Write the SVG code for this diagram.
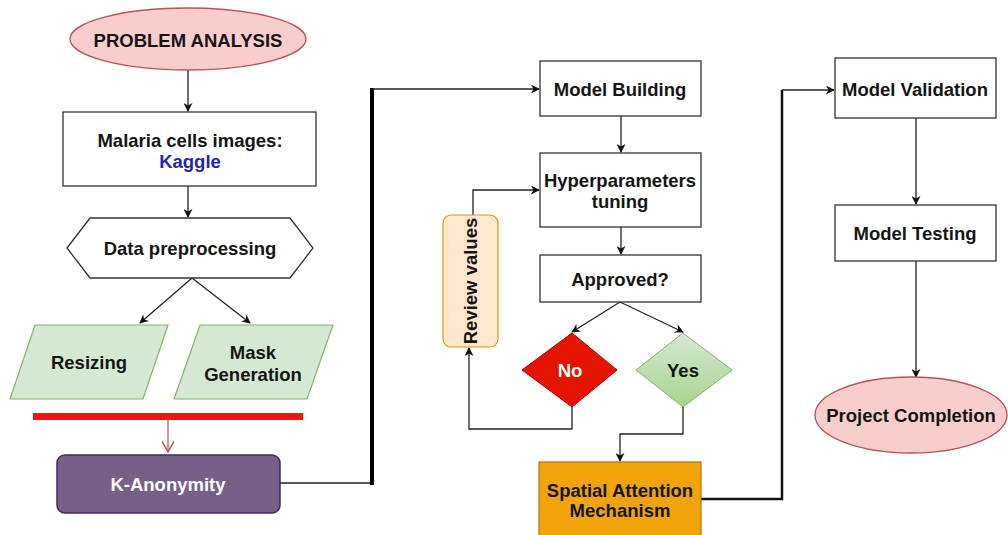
<svg xmlns="http://www.w3.org/2000/svg" width="1008" height="535" viewBox="0 0 1008 535">
<style>
text{font-family:"Liberation Sans",Arial,sans-serif;font-weight:bold;font-size:18.5px;fill:#151515;text-anchor:middle;dominant-baseline:central}
.box{fill:#fff;stroke:#333;stroke-width:1.3}
.ln{fill:none;stroke:#222;stroke-width:1.3}
</style>
<defs>
<marker id="ah" viewBox="0 0 10 10" refX="9" refY="5" markerWidth="9" markerHeight="9" markerUnits="userSpaceOnUse" orient="auto">
<path d="M0,0 L10,5 L0,10 L3,5 Z" fill="#111"/>
</marker>
<marker id="ro" viewBox="0 0 10 10" refX="9" refY="5" markerWidth="12" markerHeight="12" markerUnits="userSpaceOnUse" orient="auto">
<path d="M0,0 L9,5 L0,10" fill="none" stroke="#b85450" stroke-width="1.2"/>
</marker>
<linearGradient id="yg" x1="0" y1="0" x2="0" y2="1">
<stop offset="0" stop-color="#d5e8d4"/><stop offset="1" stop-color="#a8d48e"/>
</linearGradient>
</defs>
<rect width="1008" height="535" fill="#fff"/>

<g id="connectors">
<line class="ln" x1="188" y1="70" x2="188" y2="111" marker-end="url(#ah)"/>
<line class="ln" x1="188" y1="186" x2="188" y2="217" marker-end="url(#ah)"/>
<line class="ln" x1="192" y1="278" x2="140" y2="323" marker-end="url(#ah)"/>
<line class="ln" x1="192" y1="278" x2="250" y2="323" marker-end="url(#ah)"/>
<line x1="168" y1="420" x2="168" y2="452" stroke="#b85450" stroke-width="1.2" marker-end="url(#ro)"/>
<polyline class="ln" points="280,483 372,483"/>
<line x1="372" y1="88" x2="372" y2="485" stroke="#000" stroke-width="4"/>
<line class="ln" x1="372" y1="89" x2="539" y2="89" marker-end="url(#ah)"/>
<line class="ln" x1="621" y1="116" x2="621" y2="152" marker-end="url(#ah)"/>
<line class="ln" x1="621" y1="227" x2="621" y2="254" marker-end="url(#ah)"/>
<polyline class="ln" points="473,215 473,190 539,190" marker-end="url(#ah)"/>
<line class="ln" x1="620" y1="302" x2="572" y2="332" marker-end="url(#ah)"/>
<line class="ln" x1="620" y1="302" x2="683" y2="332" marker-end="url(#ah)"/>
<polyline class="ln" points="572,407 572,429 469,429 469,348" marker-end="url(#ah)"/>
<polyline class="ln" points="683,407 683,434 620,434 620,461" marker-end="url(#ah)"/>
<polyline points="701,499 782,499 782,90" fill="none" stroke="#111" stroke-width="2.5"/>
<line class="ln" x1="782" y1="90" x2="834" y2="90" marker-end="url(#ah)"/>
<line class="ln" x1="916" y1="118" x2="916" y2="204" marker-end="url(#ah)"/>
<line class="ln" x1="916" y1="261" x2="916" y2="377" marker-end="url(#ah)"/>
</g>

<g id="problem-analysis">
<ellipse cx="188" cy="39" rx="118" ry="31" fill="#f8cecc" stroke="#b85450" stroke-width="1.3"/>
<text x="188" y="40">PROBLEM ANALYSIS</text>
</g>
<g id="malaria-images">
<rect class="box" x="63" y="112" width="253" height="74"/>
<text x="190" y="140">Malaria cells images:</text>
<text x="190" y="161" style="fill:#2323b8">Kaggle</text>
</g>
<g id="data-preprocessing">
<polygon class="box" points="67,248 90,218 290,218 313,248 290,278 90,278"/>
<text x="190" y="248">Data preprocessing</text>
</g>
<g id="resizing">
<polygon points="35,325 168,325 143,399 10,399" fill="#d5e8d4" stroke="#82b366" stroke-width="1.2"/>
<text x="89" y="362">Resizing</text>
</g>
<g id="mask-generation">
<polygon points="200,325 333,325 307,399 174,399" fill="#d5e8d4" stroke="#82b366" stroke-width="1.2"/>
<text x="253" y="352">Mask</text>
<text x="253" y="374">Generation</text>
</g>
<g id="sync-bar">
<rect x="33" y="413" width="270" height="7" fill="#f01414"/>
</g>
<g id="k-anonymity">
<rect x="57" y="455" width="223" height="58" rx="8" fill="#76608a" stroke="#432d57" stroke-width="1.5"/>
<text x="168" y="484" style="fill:#fff">K-Anonymity</text>
</g>
<g id="model-building">
<rect class="box" x="540" y="61" width="161" height="55"/>
<text x="620" y="89">Model Building</text>
</g>
<g id="hyperparameters">
<rect class="box" x="540" y="153" width="161" height="74"/>
<text x="620" y="180">Hyperparameters</text>
<text x="620" y="201">tuning</text>
</g>
<g id="approved">
<rect class="box" x="540" y="255" width="161" height="47"/>
<text x="620" y="279">Approved?</text>
</g>
<g id="review-values">
<rect x="443" y="215" width="55" height="132" rx="8" fill="#ffe6cc" stroke="#d79b00" stroke-width="1.2"/>
<text x="470" y="281" transform="rotate(-90 470 281)">Review values</text>
</g>
<g id="no">
<polygon points="572,333 617,370 572,407 522,370" fill="#e51400" stroke="#b20000" stroke-width="1"/>
<text x="570" y="370" style="fill:#fff">No</text>
</g>
<g id="yes">
<polygon points="683,333 732,370 683,407 636,370" fill="url(#yg)" stroke="#82b366" stroke-width="1"/>
<text x="683" y="370">Yes</text>
</g>
<g id="spatial-attention">
<rect x="539" y="462" width="162" height="80" fill="#f0a30a" stroke="#bd7000" stroke-width="1.2"/>
<text x="620" y="490">Spatial Attention</text>
<text x="620" y="510">Mechanism</text>
</g>
<g id="model-validation">
<rect class="box" x="835" y="58" width="161" height="60"/>
<text x="915" y="89">Model Validation</text>
</g>
<g id="model-testing">
<rect class="box" x="835" y="205" width="161" height="56"/>
<text x="915" y="233">Model Testing</text>
</g>
<g id="project-completion">
<ellipse cx="911" cy="415" rx="96" ry="38" fill="#f8cecc" stroke="#b85450" stroke-width="1.3"/>
<text x="911" y="415">Project Completion</text>
</g>
</svg>
